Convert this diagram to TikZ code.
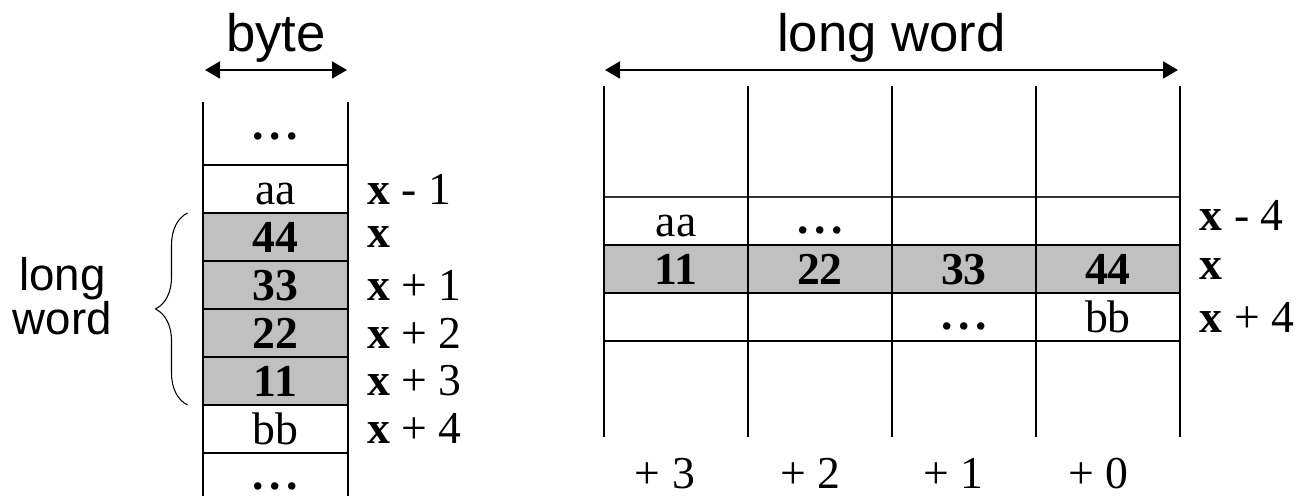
\documentclass[tikz,border=0pt]{standalone}
\usepackage{fontspec}
\setmainfont{Liberation Serif}
\setsansfont{Liberation Sans}
\usepackage{tikz}
\usetikzlibrary{positioning, arrows.meta, calc, decorations.pathreplacing}
\definecolor{wordgray}{RGB}{192,192,192}
\newcommand{\cdotsrow}{\textbf{.\kern0.12em.\kern0.12em.}}

\begin{document}
\begin{tikzpicture}[
  x=0.02cm, y=-0.02cm,            % one unit = one pixel, y grows downwards
  node distance=0pt,
  line width=1.1pt,
  cell/.style={draw, minimum width=2.88cm, minimum height=0.96cm, inner sep=0pt, outer sep=0pt,
               font=\fontsize{26}{26}\selectfont, text height=17.8pt, text depth=0pt},
  hot/.style={cell, fill=wordgray, font=\fontsize{26}{26}\selectfont\bfseries},
  thin/.style={cell, draw=black!80, line width=0.9pt},
  dotcell/.style={cell, text height=14pt},
  addr/.style={font=\fontsize{26}{26}\selectfont, inner sep=0pt},
  title/.style={font=\fontsize{30}{30}\sffamily\selectfont, inner sep=0pt},
  >={Triangle[length=0.3cm, width=0.34cm]}
]
  \useasboundingbox (0,0) rectangle (1301,496);

  % --- byte column: \node (id) [position] {value}; ---
  \node[cell] (baa) at (275.5,189) {aa};
  \node[hot]  (b44) [below=of baa] {44};
  \node[hot]  (b33) [below=of b44] {33};
  \node[hot]  (b22) [below=of b33] {22};
  \node[hot]  (b11) [below=of b22] {11};
  \node[cell] (bbb) [below=of b11] {bb};
  \node[addr] (btop) at (275.5,136) {\cdotsrow};
  \node[addr] (bbot) at (275.5,486) {\cdotsrow};
  \draw (203,102) -- (203,496);
  \draw (348,102) -- (348,496);

  % --- addresses of the bytes ---
  \node[addr] (am1) [right=0.38cm of baa] {\textbf{x} - 1};
  \node[addr] (a0)  [right=0.38cm of b44] {\textbf{x}};
  \node[addr] (a1)  [right=0.38cm of b33] {\textbf{x} + 1};
  \node[addr] (a2)  [right=0.38cm of b22] {\textbf{x} + 2};
  \node[addr] (a3)  [right=0.38cm of b11] {\textbf{x} + 3};
  \node[addr] (a4)  [right=0.38cm of bbb] {\textbf{x} + 4};

  % --- width of one byte ---
  \coordinate (bl) at (205,70);
  \coordinate (br) at (347,70);
  \draw[<->] (bl) -- node[title, above=0.14cm] (byte) {byte} (br);

  % --- brace round the long word ---
  \draw[line width=0.6pt, decorate, decoration={brace, amplitude=0.64cm}]
    ($(b11.south west)+(-16,0)$) -- node[title, font=\fontsize{26}{24}\sffamily\selectfont,
    align=center, left=1.5cm, yshift=0.25cm] (lw) {long\\word} ($(b44.north west)+(-16,0)$);

  % --- long word grid ---
  \node[thin] (r1c1) at (676,221) {aa};
  \node[thin, dotcell] (r1c2) [right=of r1c1] {\cdotsrow};
  \node[thin] (r1c3) [right=of r1c2] {};
  \node[thin] (r1c4) [right=of r1c3] {};
  \node[hot]  (r2c1) [below=of r1c1] {11};
  \node[hot]  (r2c2) [right=of r2c1] {22};
  \node[hot]  (r2c3) [right=of r2c2] {33};
  \node[hot]  (r2c4) [right=of r2c3] {44};
  \node[cell] (r3c1) [below=of r2c1] {};
  \node[cell] (r3c2) [right=of r3c1] {};
  \node[cell, dotcell] (r3c3) [right=of r3c2] {\cdotsrow};
  \node[cell] (r3c4) [right=of r3c3] {bb};
  \foreach \x in {604,748,892,1036,1180}
    \draw (\x,86) -- (\x,437);

  % --- addresses of the long words ---
  \node[addr] (wm4) [right=0.38cm of r1c4, yshift=0.12cm] {\textbf{x} - 4};
  \node[addr] (w0)  [right=0.38cm of r2c4] {\textbf{x}};
  \node[addr] (w4)  [right=0.38cm of r3c4] {\textbf{x} + 4};

  % --- byte offsets ---
  \node[addr, anchor=base] (o3) at (665,488) {+ 3};
  \node[addr, anchor=base] (o2) at (810,488) {+ 2};
  \node[addr, anchor=base] (o1) at (953,488) {+ 1};
  \node[addr, anchor=base] (o0) at (1098,488) {+ 0};

  % --- width of one long word ---
  \coordinate (wl) at (605,70);
  \coordinate (wr) at (1178,70);
  \draw[<->] (wl) -- node[title, above=0.14cm] (lword) {long word} (wr);
\end{tikzpicture}
\end{document}
